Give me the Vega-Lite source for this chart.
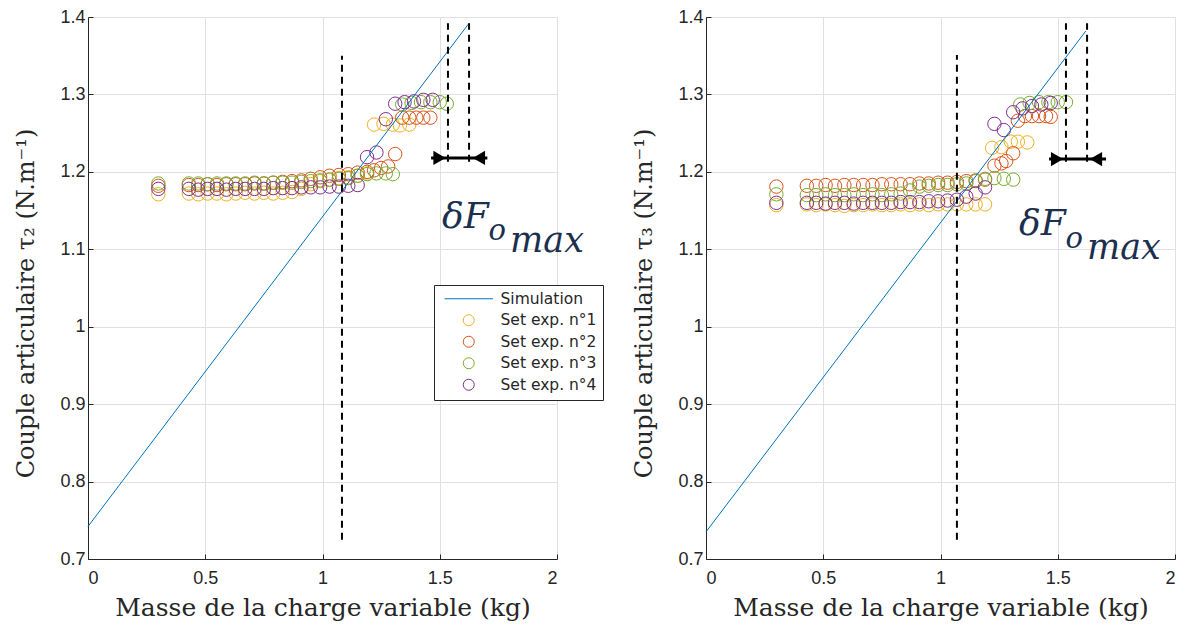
{
  "$schema": "https://vega.github.io/schema/vega-lite/v6.json",
  "background": "white",
  "padding": {"left": 14, "top": 8, "right": 3, "bottom": 5},
  "bounds": "flush",
  "spacing": 149,
  "resolve": {"legend": {"color": "independent", "shape": "independent"}},
  "config": {
    "view": {"stroke": null},
    "axis": {
      "grid": true, "gridColor": "#e0e0e0", "gridWidth": 1,
      "domainColor": "#262626", "domainWidth": 1,
      "tickColor": "#262626", "tickSize": -5,
      "labelFont": "Liberation Sans", "labelFontSize": 18, "labelColor": "#262626",
      "titleFont": "DejaVu Serif", "titleFontWeight": "normal", "titleColor": "#262626",
      "format": "~g"
    },
    "axisX": {"labelPadding": 15, "titleFontSize": 25},
    "axisY": {"labelPadding": 8, "titleFontSize": 24}
  },
  "datasets": {
    "pts": [
      {"p":"L","s":"Simulation","x":0,"y":0.742},{"p":"L","s":"Simulation","x":1.625,"y":1.392},
      {"p":"R","s":"Simulation","x":0,"y":0.735},{"p":"R","s":"Simulation","x":1.62,"y":1.382},

      {"p":"L","s":"Set exp. n°1","x":0.3,"y":1.171},{"p":"L","s":"Set exp. n°1","x":0.43,"y":1.172},{"p":"L","s":"Set exp. n°1","x":0.47,"y":1.171},{"p":"L","s":"Set exp. n°1","x":0.51,"y":1.172},{"p":"L","s":"Set exp. n°1","x":0.55,"y":1.172},{"p":"L","s":"Set exp. n°1","x":0.59,"y":1.171},{"p":"L","s":"Set exp. n°1","x":0.63,"y":1.172},{"p":"L","s":"Set exp. n°1","x":0.67,"y":1.173},{"p":"L","s":"Set exp. n°1","x":0.71,"y":1.172},{"p":"L","s":"Set exp. n°1","x":0.75,"y":1.173},{"p":"L","s":"Set exp. n°1","x":0.79,"y":1.172},{"p":"L","s":"Set exp. n°1","x":0.83,"y":1.173},{"p":"L","s":"Set exp. n°1","x":0.87,"y":1.174},{"p":"L","s":"Set exp. n°1","x":0.91,"y":1.178},{"p":"L","s":"Set exp. n°1","x":0.95,"y":1.184},{"p":"L","s":"Set exp. n°1","x":0.99,"y":1.188},{"p":"L","s":"Set exp. n°1","x":1.03,"y":1.19},{"p":"L","s":"Set exp. n°1","x":1.07,"y":1.192},{"p":"L","s":"Set exp. n°1","x":1.11,"y":1.193},{"p":"L","s":"Set exp. n°1","x":1.15,"y":1.195},{"p":"L","s":"Set exp. n°1","x":1.19,"y":1.198},{"p":"L","s":"Set exp. n°1","x":1.22,"y":1.261},{"p":"L","s":"Set exp. n°1","x":1.26,"y":1.262},{"p":"L","s":"Set exp. n°1","x":1.3,"y":1.261},{"p":"L","s":"Set exp. n°1","x":1.33,"y":1.26},{"p":"L","s":"Set exp. n°1","x":1.37,"y":1.261},

      {"p":"L","s":"Set exp. n°2","x":0.3,"y":1.182},{"p":"L","s":"Set exp. n°2","x":0.43,"y":1.183},{"p":"L","s":"Set exp. n°2","x":0.47,"y":1.183},{"p":"L","s":"Set exp. n°2","x":0.51,"y":1.184},{"p":"L","s":"Set exp. n°2","x":0.55,"y":1.183},{"p":"L","s":"Set exp. n°2","x":0.59,"y":1.184},{"p":"L","s":"Set exp. n°2","x":0.63,"y":1.184},{"p":"L","s":"Set exp. n°2","x":0.67,"y":1.184},{"p":"L","s":"Set exp. n°2","x":0.71,"y":1.185},{"p":"L","s":"Set exp. n°2","x":0.75,"y":1.185},{"p":"L","s":"Set exp. n°2","x":0.79,"y":1.186},{"p":"L","s":"Set exp. n°2","x":0.83,"y":1.187},{"p":"L","s":"Set exp. n°2","x":0.87,"y":1.188},{"p":"L","s":"Set exp. n°2","x":0.91,"y":1.189},{"p":"L","s":"Set exp. n°2","x":0.95,"y":1.191},{"p":"L","s":"Set exp. n°2","x":0.99,"y":1.193},{"p":"L","s":"Set exp. n°2","x":1.03,"y":1.195},{"p":"L","s":"Set exp. n°2","x":1.07,"y":1.196},{"p":"L","s":"Set exp. n°2","x":1.11,"y":1.197},{"p":"L","s":"Set exp. n°2","x":1.15,"y":1.199},{"p":"L","s":"Set exp. n°2","x":1.19,"y":1.2},{"p":"L","s":"Set exp. n°2","x":1.22,"y":1.202},{"p":"L","s":"Set exp. n°2","x":1.25,"y":1.205},{"p":"L","s":"Set exp. n°2","x":1.28,"y":1.207},{"p":"L","s":"Set exp. n°2","x":1.31,"y":1.223},{"p":"L","s":"Set exp. n°2","x":1.34,"y":1.27},{"p":"L","s":"Set exp. n°2","x":1.37,"y":1.27},{"p":"L","s":"Set exp. n°2","x":1.4,"y":1.27},{"p":"L","s":"Set exp. n°2","x":1.43,"y":1.27},{"p":"L","s":"Set exp. n°2","x":1.46,"y":1.27},

      {"p":"L","s":"Set exp. n°3","x":0.3,"y":1.185},{"p":"L","s":"Set exp. n°3","x":0.43,"y":1.185},{"p":"L","s":"Set exp. n°3","x":0.47,"y":1.185},{"p":"L","s":"Set exp. n°3","x":0.51,"y":1.184},{"p":"L","s":"Set exp. n°3","x":0.55,"y":1.185},{"p":"L","s":"Set exp. n°3","x":0.59,"y":1.185},{"p":"L","s":"Set exp. n°3","x":0.63,"y":1.185},{"p":"L","s":"Set exp. n°3","x":0.67,"y":1.185},{"p":"L","s":"Set exp. n°3","x":0.71,"y":1.186},{"p":"L","s":"Set exp. n°3","x":0.75,"y":1.185},{"p":"L","s":"Set exp. n°3","x":0.79,"y":1.186},{"p":"L","s":"Set exp. n°3","x":0.83,"y":1.186},{"p":"L","s":"Set exp. n°3","x":0.87,"y":1.186},{"p":"L","s":"Set exp. n°3","x":0.91,"y":1.187},{"p":"L","s":"Set exp. n°3","x":0.95,"y":1.188},{"p":"L","s":"Set exp. n°3","x":0.99,"y":1.189},{"p":"L","s":"Set exp. n°3","x":1.03,"y":1.19},{"p":"L","s":"Set exp. n°3","x":1.07,"y":1.191},{"p":"L","s":"Set exp. n°3","x":1.11,"y":1.192},{"p":"L","s":"Set exp. n°3","x":1.15,"y":1.195},{"p":"L","s":"Set exp. n°3","x":1.19,"y":1.197},{"p":"L","s":"Set exp. n°3","x":1.23,"y":1.198},{"p":"L","s":"Set exp. n°3","x":1.27,"y":1.198},{"p":"L","s":"Set exp. n°3","x":1.3,"y":1.197},{"p":"L","s":"Set exp. n°3","x":1.34,"y":1.287},{"p":"L","s":"Set exp. n°3","x":1.38,"y":1.289},{"p":"L","s":"Set exp. n°3","x":1.42,"y":1.29},{"p":"L","s":"Set exp. n°3","x":1.46,"y":1.29},{"p":"L","s":"Set exp. n°3","x":1.5,"y":1.29},{"p":"L","s":"Set exp. n°3","x":1.53,"y":1.288},

      {"p":"L","s":"Set exp. n°4","x":0.3,"y":1.178},{"p":"L","s":"Set exp. n°4","x":0.43,"y":1.178},{"p":"L","s":"Set exp. n°4","x":0.47,"y":1.177},{"p":"L","s":"Set exp. n°4","x":0.51,"y":1.178},{"p":"L","s":"Set exp. n°4","x":0.55,"y":1.178},{"p":"L","s":"Set exp. n°4","x":0.59,"y":1.177},{"p":"L","s":"Set exp. n°4","x":0.63,"y":1.178},{"p":"L","s":"Set exp. n°4","x":0.67,"y":1.178},{"p":"L","s":"Set exp. n°4","x":0.71,"y":1.178},{"p":"L","s":"Set exp. n°4","x":0.75,"y":1.178},{"p":"L","s":"Set exp. n°4","x":0.79,"y":1.179},{"p":"L","s":"Set exp. n°4","x":0.83,"y":1.179},{"p":"L","s":"Set exp. n°4","x":0.87,"y":1.179},{"p":"L","s":"Set exp. n°4","x":0.91,"y":1.18},{"p":"L","s":"Set exp. n°4","x":0.95,"y":1.18},{"p":"L","s":"Set exp. n°4","x":0.99,"y":1.18},{"p":"L","s":"Set exp. n°4","x":1.03,"y":1.181},{"p":"L","s":"Set exp. n°4","x":1.07,"y":1.181},{"p":"L","s":"Set exp. n°4","x":1.11,"y":1.182},{"p":"L","s":"Set exp. n°4","x":1.15,"y":1.183},{"p":"L","s":"Set exp. n°4","x":1.19,"y":1.219},{"p":"L","s":"Set exp. n°4","x":1.23,"y":1.225},{"p":"L","s":"Set exp. n°4","x":1.27,"y":1.268},{"p":"L","s":"Set exp. n°4","x":1.31,"y":1.288},{"p":"L","s":"Set exp. n°4","x":1.35,"y":1.29},{"p":"L","s":"Set exp. n°4","x":1.39,"y":1.291},{"p":"L","s":"Set exp. n°4","x":1.43,"y":1.293},{"p":"L","s":"Set exp. n°4","x":1.47,"y":1.293},

      {"p":"R","s":"Set exp. n°1","x":0.3,"y":1.157},{"p":"R","s":"Set exp. n°1","x":0.43,"y":1.158},{"p":"R","s":"Set exp. n°1","x":0.47,"y":1.157},{"p":"R","s":"Set exp. n°1","x":0.51,"y":1.158},{"p":"R","s":"Set exp. n°1","x":0.55,"y":1.157},{"p":"R","s":"Set exp. n°1","x":0.59,"y":1.156},{"p":"R","s":"Set exp. n°1","x":0.63,"y":1.157},{"p":"R","s":"Set exp. n°1","x":0.67,"y":1.157},{"p":"R","s":"Set exp. n°1","x":0.71,"y":1.158},{"p":"R","s":"Set exp. n°1","x":0.75,"y":1.157},{"p":"R","s":"Set exp. n°1","x":0.79,"y":1.157},{"p":"R","s":"Set exp. n°1","x":0.83,"y":1.158},{"p":"R","s":"Set exp. n°1","x":0.87,"y":1.157},{"p":"R","s":"Set exp. n°1","x":0.91,"y":1.158},{"p":"R","s":"Set exp. n°1","x":0.95,"y":1.157},{"p":"R","s":"Set exp. n°1","x":0.99,"y":1.158},{"p":"R","s":"Set exp. n°1","x":1.03,"y":1.158},{"p":"R","s":"Set exp. n°1","x":1.07,"y":1.158},{"p":"R","s":"Set exp. n°1","x":1.11,"y":1.158},{"p":"R","s":"Set exp. n°1","x":1.15,"y":1.158},{"p":"R","s":"Set exp. n°1","x":1.19,"y":1.158},{"p":"R","s":"Set exp. n°1","x":1.22,"y":1.231},{"p":"R","s":"Set exp. n°1","x":1.26,"y":1.232},{"p":"R","s":"Set exp. n°1","x":1.3,"y":1.239},{"p":"R","s":"Set exp. n°1","x":1.33,"y":1.239},{"p":"R","s":"Set exp. n°1","x":1.37,"y":1.238},

      {"p":"R","s":"Set exp. n°2","x":0.3,"y":1.181},{"p":"R","s":"Set exp. n°2","x":0.43,"y":1.182},{"p":"R","s":"Set exp. n°2","x":0.47,"y":1.182},{"p":"R","s":"Set exp. n°2","x":0.51,"y":1.183},{"p":"R","s":"Set exp. n°2","x":0.55,"y":1.182},{"p":"R","s":"Set exp. n°2","x":0.59,"y":1.183},{"p":"R","s":"Set exp. n°2","x":0.63,"y":1.183},{"p":"R","s":"Set exp. n°2","x":0.67,"y":1.183},{"p":"R","s":"Set exp. n°2","x":0.71,"y":1.183},{"p":"R","s":"Set exp. n°2","x":0.75,"y":1.184},{"p":"R","s":"Set exp. n°2","x":0.79,"y":1.184},{"p":"R","s":"Set exp. n°2","x":0.83,"y":1.184},{"p":"R","s":"Set exp. n°2","x":0.87,"y":1.184},{"p":"R","s":"Set exp. n°2","x":0.91,"y":1.185},{"p":"R","s":"Set exp. n°2","x":0.95,"y":1.185},{"p":"R","s":"Set exp. n°2","x":0.99,"y":1.186},{"p":"R","s":"Set exp. n°2","x":1.03,"y":1.186},{"p":"R","s":"Set exp. n°2","x":1.07,"y":1.187},{"p":"R","s":"Set exp. n°2","x":1.11,"y":1.188},{"p":"R","s":"Set exp. n°2","x":1.15,"y":1.189},{"p":"R","s":"Set exp. n°2","x":1.19,"y":1.19},{"p":"R","s":"Set exp. n°2","x":1.23,"y":1.208},{"p":"R","s":"Set exp. n°2","x":1.26,"y":1.211},{"p":"R","s":"Set exp. n°2","x":1.28,"y":1.214},{"p":"R","s":"Set exp. n°2","x":1.31,"y":1.224},{"p":"R","s":"Set exp. n°2","x":1.33,"y":1.266},{"p":"R","s":"Set exp. n°2","x":1.36,"y":1.272},{"p":"R","s":"Set exp. n°2","x":1.39,"y":1.272},{"p":"R","s":"Set exp. n°2","x":1.42,"y":1.272},{"p":"R","s":"Set exp. n°2","x":1.45,"y":1.272},{"p":"R","s":"Set exp. n°2","x":1.47,"y":1.271},

      {"p":"R","s":"Set exp. n°3","x":0.3,"y":1.171},{"p":"R","s":"Set exp. n°3","x":0.43,"y":1.17},{"p":"R","s":"Set exp. n°3","x":0.47,"y":1.17},{"p":"R","s":"Set exp. n°3","x":0.51,"y":1.171},{"p":"R","s":"Set exp. n°3","x":0.55,"y":1.17},{"p":"R","s":"Set exp. n°3","x":0.59,"y":1.17},{"p":"R","s":"Set exp. n°3","x":0.63,"y":1.171},{"p":"R","s":"Set exp. n°3","x":0.67,"y":1.17},{"p":"R","s":"Set exp. n°3","x":0.71,"y":1.171},{"p":"R","s":"Set exp. n°3","x":0.75,"y":1.17},{"p":"R","s":"Set exp. n°3","x":0.79,"y":1.171},{"p":"R","s":"Set exp. n°3","x":0.83,"y":1.172},{"p":"R","s":"Set exp. n°3","x":0.87,"y":1.176},{"p":"R","s":"Set exp. n°3","x":0.91,"y":1.181},{"p":"R","s":"Set exp. n°3","x":0.95,"y":1.182},{"p":"R","s":"Set exp. n°3","x":0.99,"y":1.183},{"p":"R","s":"Set exp. n°3","x":1.03,"y":1.183},{"p":"R","s":"Set exp. n°3","x":1.07,"y":1.184},{"p":"R","s":"Set exp. n°3","x":1.11,"y":1.185},{"p":"R","s":"Set exp. n°3","x":1.15,"y":1.188},{"p":"R","s":"Set exp. n°3","x":1.19,"y":1.191},{"p":"R","s":"Set exp. n°3","x":1.23,"y":1.192},{"p":"R","s":"Set exp. n°3","x":1.27,"y":1.191},{"p":"R","s":"Set exp. n°3","x":1.31,"y":1.19},{"p":"R","s":"Set exp. n°3","x":1.34,"y":1.287},{"p":"R","s":"Set exp. n°3","x":1.38,"y":1.289},{"p":"R","s":"Set exp. n°3","x":1.42,"y":1.29},{"p":"R","s":"Set exp. n°3","x":1.46,"y":1.29},{"p":"R","s":"Set exp. n°3","x":1.5,"y":1.29},{"p":"R","s":"Set exp. n°3","x":1.535,"y":1.29},

      {"p":"R","s":"Set exp. n°4","x":0.3,"y":1.16},{"p":"R","s":"Set exp. n°4","x":0.43,"y":1.16},{"p":"R","s":"Set exp. n°4","x":0.47,"y":1.16},{"p":"R","s":"Set exp. n°4","x":0.51,"y":1.159},{"p":"R","s":"Set exp. n°4","x":0.55,"y":1.16},{"p":"R","s":"Set exp. n°4","x":0.59,"y":1.16},{"p":"R","s":"Set exp. n°4","x":0.63,"y":1.159},{"p":"R","s":"Set exp. n°4","x":0.67,"y":1.16},{"p":"R","s":"Set exp. n°4","x":0.71,"y":1.16},{"p":"R","s":"Set exp. n°4","x":0.75,"y":1.16},{"p":"R","s":"Set exp. n°4","x":0.79,"y":1.16},{"p":"R","s":"Set exp. n°4","x":0.83,"y":1.161},{"p":"R","s":"Set exp. n°4","x":0.87,"y":1.161},{"p":"R","s":"Set exp. n°4","x":0.91,"y":1.161},{"p":"R","s":"Set exp. n°4","x":0.95,"y":1.162},{"p":"R","s":"Set exp. n°4","x":0.99,"y":1.162},{"p":"R","s":"Set exp. n°4","x":1.03,"y":1.163},{"p":"R","s":"Set exp. n°4","x":1.07,"y":1.164},{"p":"R","s":"Set exp. n°4","x":1.11,"y":1.168},{"p":"R","s":"Set exp. n°4","x":1.15,"y":1.172},{"p":"R","s":"Set exp. n°4","x":1.19,"y":1.18},{"p":"R","s":"Set exp. n°4","x":1.23,"y":1.262},{"p":"R","s":"Set exp. n°4","x":1.27,"y":1.254},{"p":"R","s":"Set exp. n°4","x":1.31,"y":1.277},{"p":"R","s":"Set exp. n°4","x":1.35,"y":1.282},{"p":"R","s":"Set exp. n°4","x":1.39,"y":1.285},{"p":"R","s":"Set exp. n°4","x":1.43,"y":1.287},{"p":"R","s":"Set exp. n°4","x":1.47,"y":1.289}
    ],
    "rules": [
      {"p":"L","x":1.083,"y":0.725,"y2":1.35},{"p":"L","x":1.535,"y":1.213,"y2":1.392},{"p":"L","x":1.625,"y":1.213,"y2":1.392},
      {"p":"R","x":1.07,"y":0.725,"y2":1.351},{"p":"R","x":1.535,"y":1.213,"y2":1.392},{"p":"R","x":1.625,"y":1.213,"y2":1.392}
    ],
    "arrows": [
      {"p":"L","x":1.463,"x2":1.703,"y":1.218},
      {"p":"R","x":1.463,"x2":1.706,"y":1.2165}
    ],
    "heads": [
      {"p":"L","x":1.499,"y":1.218,"d":"right"},{"p":"L","x":1.667,"y":1.218,"d":"left"},
      {"p":"R","x":1.497,"y":1.2165,"d":"right"},{"p":"R","x":1.663,"y":1.2165,"d":"left"}
    ],
    "one": [{"n": 1}]
  },
  "hconcat": [
    {
      "width": 469, "height": 542,
      "layer": [
        {
          "data": {"name": "pts"},
          "transform": [{"filter": "datum.p == 'L' && datum.s != 'Simulation'"}],
          "mark": {"type": "point", "filled": false, "size": 180, "strokeWidth": 1, "opacity": 1},
          "encoding": {
            "x": {"field": "x", "type": "quantitative", "scale": {"domain": [0, 2], "nice": false, "zero": false, "padding": 0}, "axis": {"values": [0, 0.5, 1, 1.5, 2], "title": "Masse de la charge variable (kg)", "titlePadding": 8}},
            "y": {"field": "y", "type": "quantitative", "scale": {"domain": [0.7, 1.4], "nice": false, "zero": false, "padding": 0}, "axis": {"values": [0.7, 0.8, 0.9, 1, 1.1, 1.2, 1.3, 1.4], "title": "Couple articulaire τ₂ (N.m⁻¹)", "titlePadding": 21, "titleY": 286}},
            "color": {"field": "s", "type": "nominal", "scale": {"domain": ["Simulation", "Set exp. n°1", "Set exp. n°2", "Set exp. n°3", "Set exp. n°4"], "range": ["#0072BD", "#EDB120", "#D95319", "#77AC30", "#7E2F8E"]},
              "legend": {"orient": "none", "legendX": 346, "legendY": 268, "title": null, "fillColor": "white", "strokeColor": "#262626", "padding": 6, "labelFont": "DejaVu Sans", "labelFontSize": 15.5, "labelColor": "#262626", "symbolSize": 121, "symbolStrokeWidth": 1, "rowPadding": 4.5, "symbolOffset": 21, "labelOffset": 24}},
            "shape": {"field": "s", "type": "nominal", "scale": {"domain": ["Simulation", "Set exp. n°1", "Set exp. n°2", "Set exp. n°3", "Set exp. n°4"], "range": ["M-4.4,0H4.4", "circle", "circle", "circle", "circle"]},
              "legend": {"orient": "none", "legendX": 346, "legendY": 268, "title": null, "fillColor": "white", "strokeColor": "#262626", "padding": 6, "labelFont": "DejaVu Sans", "labelFontSize": 15.5, "labelColor": "#262626", "symbolSize": 121, "symbolStrokeWidth": 1, "rowPadding": 4.5, "symbolOffset": 21, "labelOffset": 24}}
          }
        },
        {
          "data": {"name": "pts"},
          "transform": [{"filter": "datum.p == 'L' && datum.s == 'Simulation'"}],
          "mark": {"type": "line", "strokeWidth": 1},
          "encoding": {
            "x": {"field": "x", "type": "quantitative"},
            "y": {"field": "y", "type": "quantitative"},
            "color": {"field": "s", "type": "nominal"}
          }
        },
        {
          "data": {"name": "rules"},
          "transform": [{"filter": "datum.p == 'L'"}],
          "mark": {"type": "rule", "color": "black", "strokeWidth": 2, "strokeDash": [7, 5]},
          "encoding": {"x": {"field": "x", "type": "quantitative"}, "y": {"field": "y", "type": "quantitative"}, "y2": {"field": "y2"}}
        },
        {
          "data": {"name": "arrows"},
          "transform": [{"filter": "datum.p == 'L'"}],
          "mark": {"type": "rule", "color": "black", "strokeWidth": 3},
          "encoding": {"x": {"field": "x", "type": "quantitative"}, "x2": {"field": "x2"}, "y": {"field": "y", "type": "quantitative"}}
        },
        {
          "data": {"name": "heads"},
          "transform": [{"filter": "datum.p == 'L' && datum.d == 'right'"}],
          "mark": {"type": "point", "shape": "triangle-right", "filled": true, "color": "black", "size": 200, "opacity": 1},
          "encoding": {"x": {"field": "x", "type": "quantitative"}, "y": {"field": "y", "type": "quantitative"}}
        },
        {
          "data": {"name": "heads"},
          "transform": [{"filter": "datum.p == 'L' && datum.d == 'left'"}],
          "mark": {"type": "point", "shape": "triangle-left", "filled": true, "color": "black", "size": 200, "opacity": 1},
          "encoding": {"x": {"field": "x", "type": "quantitative"}, "y": {"field": "y", "type": "quantitative"}}
        },
        {
          "data": {"name": "one"},
          "mark": {"type": "text", "text": "δF", "font": "DejaVu Serif", "fontStyle": "italic", "fontSize": 36, "align": "left", "baseline": "alphabetic", "color": "#1c2f4f"},
          "encoding": {"x": {"datum": 1.51}, "y": {"datum": 1.1274}}
        },
        {
          "data": {"name": "one"},
          "mark": {"type": "text", "text": "o", "font": "DejaVu Serif", "fontStyle": "italic", "fontSize": 29, "align": "left", "baseline": "alphabetic", "color": "#1c2f4f"},
          "encoding": {"x": {"datum": 1.708}, "y": {"datum": 1.1119}}
        },
        {
          "data": {"name": "one"},
          "mark": {"type": "text", "text": "max", "font": "DejaVu Serif", "fontStyle": "italic", "fontSize": 35, "align": "left", "baseline": "alphabetic", "color": "#1c2f4f"},
          "encoding": {"x": {"datum": 1.8}, "y": {"datum": 1.0964}}
        }
      ]
    },
    {
      "width": 469, "height": 542,
      "layer": [
        {
          "data": {"name": "pts"},
          "transform": [{"filter": "datum.p == 'R' && datum.s != 'Simulation'"}],
          "mark": {"type": "point", "filled": false, "size": 180, "strokeWidth": 1, "opacity": 1},
          "encoding": {
            "x": {"field": "x", "type": "quantitative", "scale": {"domain": [0, 2], "nice": false, "zero": false, "padding": 0}, "axis": {"values": [0, 0.5, 1, 1.5, 2], "title": "Masse de la charge variable (kg)", "titlePadding": 8}},
            "y": {"field": "y", "type": "quantitative", "scale": {"domain": [0.7, 1.4], "nice": false, "zero": false, "padding": 0}, "axis": {"values": [0.7, 0.8, 0.9, 1, 1.1, 1.2, 1.3, 1.4], "title": "Couple articulaire τ₃ (N.m⁻¹)", "titlePadding": 21, "titleY": 286}},
            "color": {"field": "s", "type": "nominal", "legend": null, "scale": {"domain": ["Simulation", "Set exp. n°1", "Set exp. n°2", "Set exp. n°3", "Set exp. n°4"], "range": ["#0072BD", "#EDB120", "#D95319", "#77AC30", "#7E2F8E"]}},
            "shape": {"field": "s", "type": "nominal", "legend": null, "scale": {"domain": ["Simulation", "Set exp. n°1", "Set exp. n°2", "Set exp. n°3", "Set exp. n°4"], "range": ["M-4.4,0H4.4", "circle", "circle", "circle", "circle"]}}
          }
        },
        {
          "data": {"name": "pts"},
          "transform": [{"filter": "datum.p == 'R' && datum.s == 'Simulation'"}],
          "mark": {"type": "line", "strokeWidth": 1},
          "encoding": {
            "x": {"field": "x", "type": "quantitative"},
            "y": {"field": "y", "type": "quantitative"},
            "color": {"field": "s", "type": "nominal", "legend": null}
          }
        },
        {
          "data": {"name": "rules"},
          "transform": [{"filter": "datum.p == 'R'"}],
          "mark": {"type": "rule", "color": "black", "strokeWidth": 2, "strokeDash": [7, 5]},
          "encoding": {"x": {"field": "x", "type": "quantitative"}, "y": {"field": "y", "type": "quantitative"}, "y2": {"field": "y2"}}
        },
        {
          "data": {"name": "arrows"},
          "transform": [{"filter": "datum.p == 'R'"}],
          "mark": {"type": "rule", "color": "black", "strokeWidth": 3},
          "encoding": {"x": {"field": "x", "type": "quantitative"}, "x2": {"field": "x2"}, "y": {"field": "y", "type": "quantitative"}}
        },
        {
          "data": {"name": "heads"},
          "transform": [{"filter": "datum.p == 'R' && datum.d == 'right'"}],
          "mark": {"type": "point", "shape": "triangle-right", "filled": true, "color": "black", "size": 200, "opacity": 1},
          "encoding": {"x": {"field": "x", "type": "quantitative"}, "y": {"field": "y", "type": "quantitative"}}
        },
        {
          "data": {"name": "heads"},
          "transform": [{"filter": "datum.p == 'R' && datum.d == 'left'"}],
          "mark": {"type": "point", "shape": "triangle-left", "filled": true, "color": "black", "size": 200, "opacity": 1},
          "encoding": {"x": {"field": "x", "type": "quantitative"}, "y": {"field": "y", "type": "quantitative"}}
        },
        {
          "data": {"name": "one"},
          "mark": {"type": "text", "text": "δF", "font": "DejaVu Serif", "fontStyle": "italic", "fontSize": 36, "align": "left", "baseline": "alphabetic", "color": "#1c2f4f"},
          "encoding": {"x": {"datum": 1.335}, "y": {"datum": 1.118}}
        },
        {
          "data": {"name": "one"},
          "mark": {"type": "text", "text": "o", "font": "DejaVu Serif", "fontStyle": "italic", "fontSize": 29, "align": "left", "baseline": "alphabetic", "color": "#1c2f4f"},
          "encoding": {"x": {"datum": 1.533}, "y": {"datum": 1.102}}
        },
        {
          "data": {"name": "one"},
          "mark": {"type": "text", "text": "max", "font": "DejaVu Serif", "fontStyle": "italic", "fontSize": 35, "align": "left", "baseline": "alphabetic", "color": "#1c2f4f"},
          "encoding": {"x": {"datum": 1.625}, "y": {"datum": 1.087}}
        }
      ]
    }
  ]
}
